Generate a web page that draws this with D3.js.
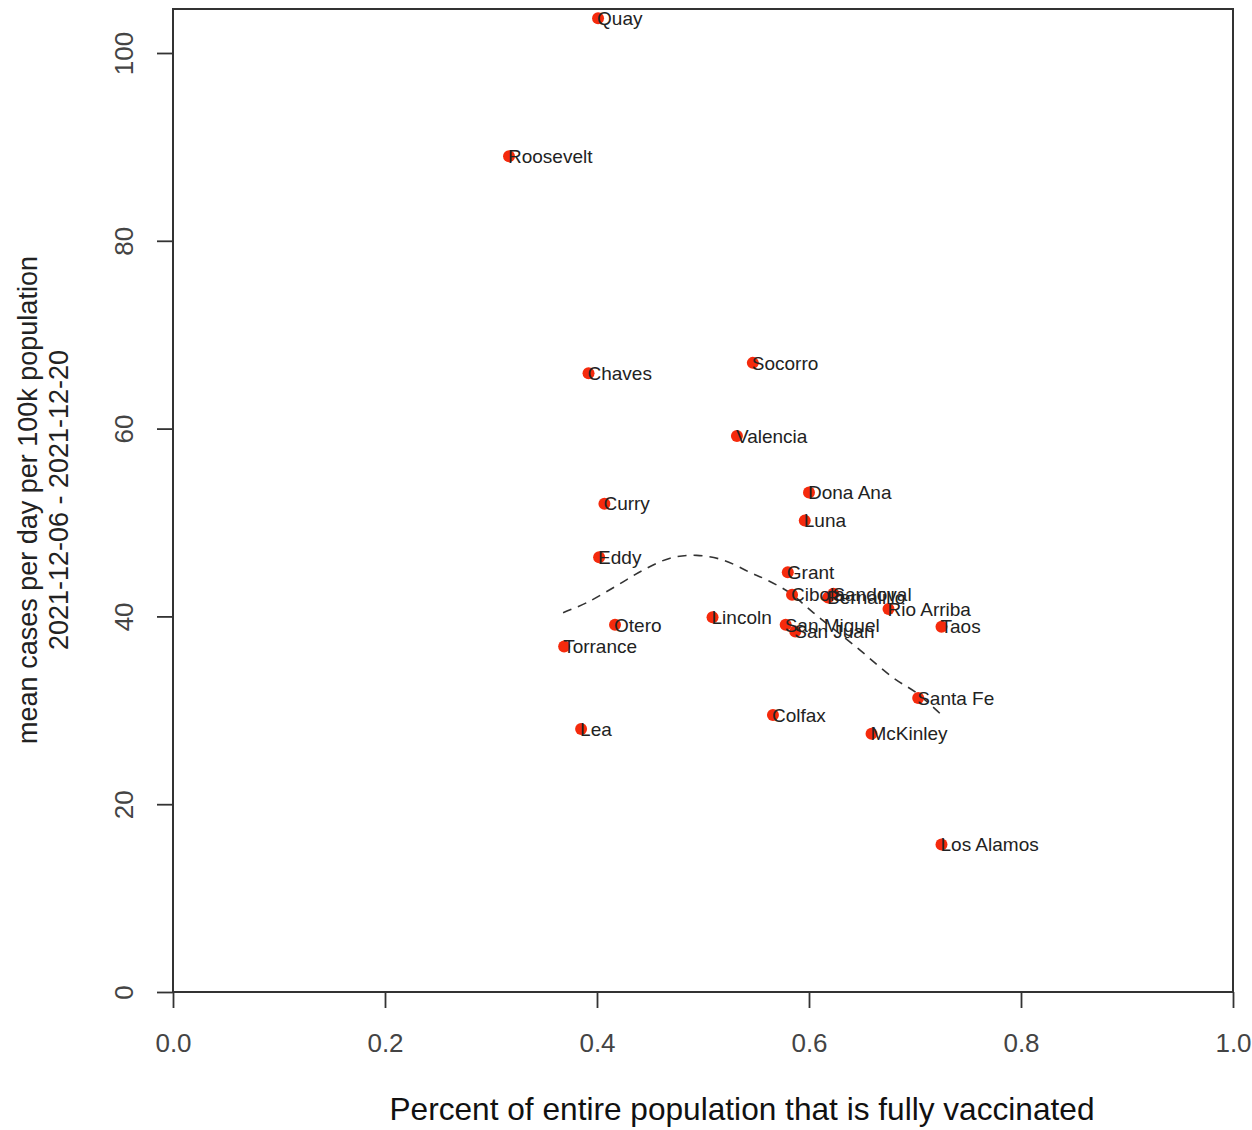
<!DOCTYPE html>
<html>
<head>
<meta charset="utf-8">
<script src="https://cdn.jsdelivr.net/npm/d3@7"></script>
<style>
body{margin:0;background:#fff;}
svg{font-family:"Liberation Sans",Arial,Helvetica,sans-serif;}
</style>
</head>
<body>
<div id="chart"></div>
<script>
const w = 1252;
const h = 1130;

//County data: fully vaccinated share vs mean daily cases per 100k
const counties = ["Quay","Roosevelt","Chaves","Socorro","Valencia","Dona Ana","Luna","Curry","Eddy","Grant",
  "Cibola","Sandoval","Bernalillo","Rio Arriba","Taos","Lincoln","San Miguel","San Juan","Otero","Torrance",
  "Santa Fe","Colfax","McKinley","Lea","Los Alamos"];
const vaccinated = [0.401,0.317,0.392,0.547,0.532,0.600,0.596,0.407,0.402,0.580,
  0.584,0.623,0.618,0.675,0.725,0.509,0.578,0.587,0.417,0.369,
  0.703,0.566,0.659,0.385,0.725];
const cases = [103.7,89.0,65.9,67.0,59.2,53.2,50.2,52.0,46.3,44.7,
  42.3,42.4,42.0,40.8,38.9,39.9,39.1,38.4,39.1,36.8,
  31.3,29.5,27.5,28.0,15.7];

//Smoothed (dashed) trend
const fitX = [0.368,0.391,0.419,0.443,0.469,0.494,0.519,0.544,0.560,0.582,0.604,0.645,0.679,0.702,0.726];
const fitY = [40.4,41.5,43.3,44.9,46.2,46.5,46.0,44.7,43.9,42.5,40.4,36.7,33.5,31.8,29.4];

const xTicks = [0,0.2,0.4,0.6,0.8,1.0];
const yTicks = [0,20,40,60,80,100];

const pLeft = 173, pRight = 1233, pTop = 9, pBottom = 992;

const svg = d3.select("#chart")
.append('svg')
.attr('width',w)
.attr('height',h);

const xScale = d3.scaleLinear().domain([0,1]).range([pLeft,pRight]);
const yScale = d3.scaleLinear().domain([0,100]).range([pBottom,53]);

//Box
svg.append('rect')
.attr('x',pLeft).attr('y',pTop)
.attr('width',pRight-pLeft).attr('height',pBottom-pTop)
.attr('fill','none').attr('stroke','#333').attr('stroke-width',2);

//Axes
const xAxis = d3.axisBottom(xScale).tickValues(xTicks).tickFormat(d3.format('.1f')).tickSize(16);
const gx = svg.append('g')
.attr('transform',`translate(0,${pBottom})`)
.call(xAxis);
gx.select('.domain').remove();
gx.selectAll('line').attr('stroke','#333').attr('stroke-width',1.8);
gx.selectAll('text')
.attr('y',60).attr('dy',0)
.attr('font-size',26).attr('fill','#444');

const yAxis = d3.axisLeft(yScale).tickValues(yTicks).tickSize(16);
const gy = svg.append('g')
.attr('transform',`translate(${pLeft},0)`)
.call(yAxis);
gy.select('.domain').remove();
gy.selectAll('line').attr('stroke','#333').attr('stroke-width',1.8);
gy.selectAll('text')
.attr('x',0).attr('dy',0)
.attr('text-anchor','middle')
.attr('transform','translate(-40,0) rotate(-90)')
.attr('font-size',26).attr('fill','#444');

//Axis titles
svg.append('text')
.attr('x',742).attr('y',1120)
.attr('text-anchor','middle')
.attr('font-size',32)
.attr('textLength',705).attr('lengthAdjust','spacingAndGlyphs')
.attr('fill','#111')
.text('Percent of entire population that is fully vaccinated');

const yLab = svg.append('g').attr('transform','translate(0,500) rotate(-90)');
yLab.append('text')
.attr('x',0).attr('y',37)
.attr('text-anchor','middle').attr('font-size',27).attr('fill','#222')
.text('mean cases per day per 100k population');
yLab.append('text')
.attr('x',0).attr('y',68)
.attr('text-anchor','middle').attr('font-size',27).attr('fill','#222')
.text('2021-12-06 - 2021-12-20');

//Trend line
const line = d3.line()
.x(d => xScale(d[0]))
.y(d => yScale(d[1]))
.curve(d3.curveCatmullRom);
svg.append('path')
.datum(fitX.map((x,i) => [x,fitY[i]]))
.attr('d',line)
.attr('fill','none')
.attr('stroke','#333')
.attr('stroke-width',1.6)
.attr('stroke-dasharray','9,7');

//Points
svg.append('g')
.selectAll('.dot')
.data(counties)
.enter()
.append('circle')
.attr('class','dot')
.attr('cx',(d,i) => xScale(vaccinated[i]))
.attr('cy',(d,i) => yScale(cases[i]))
.attr('r',6)
.attr('fill','#f52a0c');

//Labels (they overlap in the crowded middle, as in the original)
svg.append('g')
.selectAll('.lab')
.data(counties)
.enter()
.append('text')
.attr('class','lab')
.attr('x',(d,i) => xScale(vaccinated[i]) - 1)
.attr('y',(d,i) => yScale(cases[i]))
.attr('dy','0.35em')
.attr('font-size',19)
.attr('fill','#222')
.text(d => d);
</script>
</body>
</html>
